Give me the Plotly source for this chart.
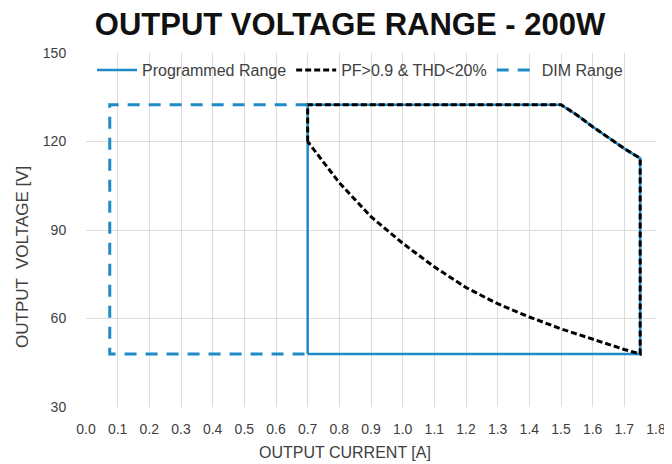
import plotly.graph_objects as go

# Programmed range boundary (current A, voltage V)
prog_x = [0.7, 0.7, 1.5, 1.55, 1.6, 1.65, 1.7, 1.75, 1.75, 0.7]
prog_y = [48, 132.5, 132.5, 129.0, 125.0, 121.2, 117.6, 114.3, 48, 48]

# PF>0.9 & THD<20% region boundary
pf_x = [0.7, 0.7, 1.5, 1.55, 1.6, 1.65, 1.7, 1.75, 1.75, 1.7, 1.6, 1.5, 1.4, 1.3, 1.2, 1.1, 1.0, 0.9, 0.8, 0.7]
pf_y = [120, 132.5, 132.5, 129.0, 125.0, 121.2, 117.6, 114.3, 48, 49.5, 53, 56.5, 60.5, 65, 70.5, 77.5, 85.5, 94.5, 106, 120]

# DIM range boundary
dim_x = [0.7, 0.075, 0.075, 0.7]
dim_y = [132.5, 132.5, 48, 48]

x_ticks = [round(i * 0.1, 1) for i in range(19)]
x_tick_labels = [f"{v:.1f}" for v in x_ticks]
y_ticks = [30, 60, 90, 120, 150]

BLUE = "#1e8ac6"
GREY = "#404040"
FONT = "Liberation Sans, Arial"

# plot box in figure pixels (page body adds an 8px offset)
L, R, T, B = 78, 648, 45, 399
W, H = R - L, B - T

fig = go.Figure()
fig.add_trace(go.Scatter(x=prog_x, y=prog_y, mode="lines", name="Programmed Range",
                         line=dict(color=BLUE, width=2.5)))
fig.add_trace(go.Scatter(x=pf_x, y=pf_y, mode="lines", name="PF>0.9 & THD<20%",
                         line=dict(color="black", width=3, dash="6px,3px")))
fig.add_trace(go.Scatter(x=dim_x, y=dim_y, mode="lines", name="DIM Range",
                         line=dict(color=BLUE, width=3, dash="12px,9px")))

fig.update_layout(
    width=672, height=464,
    margin=dict(l=L, r=672 - R, t=T, b=464 - B),
    paper_bgcolor="white", plot_bgcolor="white",
    title=dict(text="<b>OUTPUT VOLTAGE RANGE - 200W</b>", x=342 / 672, xanchor="center",
               y=1 - 16 / 464, yanchor="middle",
               font=dict(family=FONT, size=31, color="#111111")),
    font=dict(family=FONT, color=GREY),
    showlegend=True,
    legend=dict(orientation="h", x=6 / W, y=1.0, xanchor="left", yanchor="top",
                bgcolor="rgba(255,255,255,0)", font=dict(size=16, color=GREY),
                itemwidth=40, tracegroupgap=0),
    xaxis=dict(range=[0, 1.8], tickmode="array", tickvals=x_ticks, ticktext=x_tick_labels,
               showgrid=True, gridcolor="#dcdcdc", gridwidth=1, zeroline=False,
               showline=False, ticks="outside", ticklen=9, tickcolor="rgba(0,0,0,0)",
               tickfont=dict(size=14, color=GREY), automargin=False),
    yaxis=dict(range=[30, 150], tickmode="array", tickvals=y_ticks,
               showgrid=True, gridcolor="#dcdcdc", gridwidth=1, zeroline=False,
               showline=False, ticks="outside", ticklen=16, tickcolor="rgba(0,0,0,0)",
               tickfont=dict(size=14, color=GREY), automargin=False),
    annotations=[
        dict(text="OUTPUT CURRENT [A]", xref="paper", yref="paper", x=(337 - L) / W,
             y=-(444 - B) / H, xanchor="center", yanchor="middle", showarrow=False,
             font=dict(size=16, color=GREY)),
        dict(text="OUTPUT  VOLTAGE [V]", xref="paper", yref="paper", x=-(L - 14) / W,
             y=(B - 249) / H, xanchor="center", yanchor="middle", showarrow=False,
             textangle=-90, font=dict(size=17, color=GREY)),
    ],
)

fig.write_html("out.html")
